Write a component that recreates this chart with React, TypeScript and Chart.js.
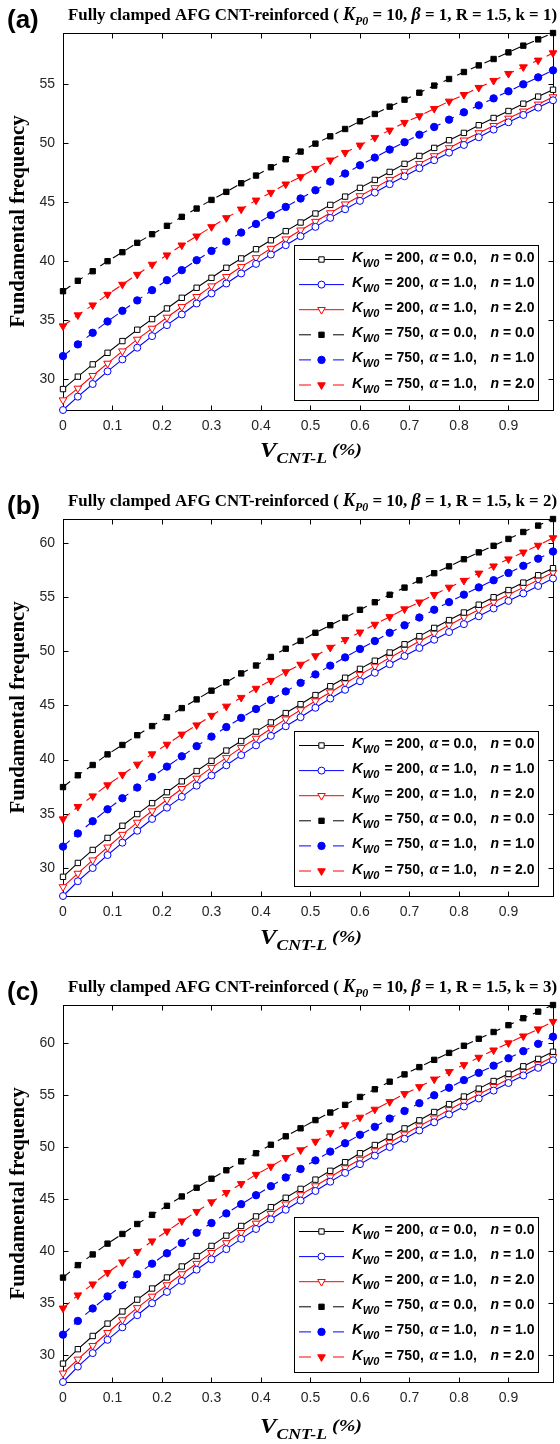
import React, { useEffect, useRef } from "react";
import { Chart, registerables } from "chart.js";

Chart.register(...registerables);

// ---------- DATA ----------
const vCnt = [0, 0.03, 0.06, 0.09, 0.12, 0.15, 0.18, 0.21, 0.24, 0.27, 0.3, 0.33, 0.36, 0.39, 0.42, 0.45, 0.48, 0.51, 0.54, 0.57, 0.6, 0.63, 0.66, 0.69, 0.72, 0.75, 0.78, 0.81, 0.84, 0.87, 0.9, 0.93, 0.96, 0.99];
const xTicks = [0, 0.1, 0.2, 0.3, 0.4, 0.5, 0.6, 0.7, 0.8, 0.9];
const xTickLabels = ["0", "0.1", "0.2", "0.3", "0.4", "0.5", "0.6", "0.7", "0.8", "0.9"];
const yTicksA = [30, 35, 40, 45, 50, 55];
const yTicksBC = [30, 35, 40, 45, 50, 55, 60];

const panelLabels = ["(a)", "(b)", "(c)"];
const kValues = ["1", "2", "3"];
const kW0Values = ["200", "200", "200", "750", "750", "750"];
const alphaValues = ["0.0", "1.0", "1.0", "0.0", "1.0", "1.0"];
const nValues = ["0.0", "1.0", "2.0", "0.0", "1.0", "2.0"];

// panel (a), k = 1
const a_k200_a0_n0 = [29.18, 30.23, 31.27, 32.25, 33.24, 34.2, 35.1, 36.0, 36.9, 37.75, 38.59, 39.44, 40.23, 41.01, 41.77, 42.54, 43.27, 44.03, 44.76, 45.46, 46.2, 46.87, 47.55, 48.23, 48.9, 49.58, 50.23, 50.85, 51.5, 52.11, 52.7, 53.32, 53.92, 54.5];
const a_k200_a1_n1 = [27.41, 28.54, 29.61, 30.68, 31.69, 32.68, 33.66, 34.59, 35.49, 36.42, 37.27, 38.11, 38.96, 39.77, 40.56, 41.35, 42.11, 42.9, 43.66, 44.39, 45.1, 45.8, 46.51, 47.18, 47.86, 48.54, 49.18, 49.83, 50.48, 51.13, 51.75, 52.37, 52.99, 53.61];
const a_k200_a1_n2 = [28.25, 29.24, 30.31, 31.35, 32.39, 33.38, 34.31, 35.24, 36.14, 36.99, 37.89, 38.68, 39.52, 40.28, 41.07, 41.86, 42.62, 43.35, 44.08, 44.82, 45.52, 46.2, 46.9, 47.58, 48.25, 48.9, 49.58, 50.23, 50.85, 51.46, 52.08, 52.68, 53.27, 53.89];
const a_k750_a0_n0 = [37.46, 38.34, 39.15, 40.0, 40.76, 41.55, 42.28, 42.99, 43.75, 44.45, 45.18, 45.86, 46.59, 47.24, 47.94, 48.62, 49.27, 49.94, 50.56, 51.18, 51.83, 52.45, 53.07, 53.66, 54.25, 54.85, 55.41, 56.0, 56.56, 57.1, 57.66, 58.23, 58.76, 59.3];
const a_k750_a1_n1 = [31.97, 32.96, 33.94, 34.9, 35.8, 36.68, 37.55, 38.39, 39.24, 40.08, 40.87, 41.66, 42.42, 43.15, 43.89, 44.59, 45.3, 46.0, 46.73, 47.41, 48.11, 48.76, 49.44, 50.06, 50.7, 51.35, 51.97, 52.59, 53.18, 53.77, 54.37, 54.96, 55.55, 56.14];
const a_k750_a1_n2 = [34.51, 35.44, 36.28, 37.18, 38.03, 38.87, 39.72, 40.51, 41.35, 42.11, 42.9, 43.66, 44.39, 45.15, 45.8, 46.51, 47.13, 47.83, 48.54, 49.18, 49.8, 50.45, 51.07, 51.72, 52.28, 52.9, 53.52, 54.08, 54.68, 55.27, 55.86, 56.42, 56.99, 57.61];

// panel (b), k = 2
const b_k200_a0_n0 = [29.18, 30.46, 31.66, 32.77, 33.89, 34.97, 35.98, 36.99, 37.99, 38.94, 39.88, 40.83, 41.71, 42.58, 43.43, 44.29, 45.11, 45.95, 46.77, 47.55, 48.37, 49.12, 49.88, 50.64, 51.39, 52.15, 52.87, 53.57, 54.29, 54.98, 55.64, 56.33, 57.01, 57.66];
const b_k200_a1_n1 = [27.41, 28.77, 29.99, 31.19, 32.33, 33.43, 34.52, 35.56, 36.56, 37.59, 38.53, 39.47, 40.41, 41.31, 42.19, 43.07, 43.91, 44.78, 45.63, 46.44, 47.23, 48.01, 48.8, 49.55, 50.3, 51.06, 51.77, 52.5, 53.22, 53.94, 54.64, 55.33, 56.02, 56.71];
const b_k200_a1_n2 = [28.25, 29.49, 30.72, 31.91, 33.08, 34.2, 35.25, 36.29, 37.31, 38.26, 39.26, 40.16, 41.1, 41.95, 42.84, 43.73, 44.58, 45.4, 46.22, 47.05, 47.84, 48.6, 49.39, 50.15, 50.91, 51.64, 52.4, 53.13, 53.83, 54.52, 55.22, 55.89, 56.56, 57.26];
const b_k750_a0_n0 = [37.46, 38.55, 39.5, 40.48, 41.35, 42.25, 43.09, 43.9, 44.75, 45.55, 46.36, 47.13, 47.95, 48.68, 49.47, 50.23, 50.95, 51.7, 52.4, 53.1, 53.82, 54.52, 55.21, 55.87, 56.54, 57.2, 57.83, 58.49, 59.12, 59.73, 60.36, 61.0, 61.59, 62.2];
const b_k750_a1_n1 = [31.97, 33.18, 34.31, 35.41, 36.43, 37.42, 38.4, 39.35, 40.3, 41.24, 42.12, 43.0, 43.85, 44.67, 45.5, 46.29, 47.08, 47.86, 48.67, 49.43, 50.21, 50.94, 51.7, 52.39, 53.11, 53.83, 54.53, 55.22, 55.89, 56.55, 57.22, 57.88, 58.54, 59.2];
const b_k750_a1_n2 = [34.51, 35.65, 36.63, 37.65, 38.61, 39.56, 40.51, 41.4, 42.33, 43.18, 44.06, 44.91, 45.72, 46.56, 47.29, 48.08, 48.78, 49.56, 50.34, 51.06, 51.75, 52.47, 53.17, 53.89, 54.52, 55.21, 55.89, 56.52, 57.19, 57.85, 58.5, 59.13, 59.76, 60.45];

// panel (c), k = 3
const c_k200_a0_n0 = [29.18, 30.57, 31.84, 33.03, 34.2, 35.34, 36.41, 37.47, 38.53, 39.53, 40.51, 41.5, 42.43, 43.35, 44.24, 45.14, 46.0, 46.89, 47.74, 48.57, 49.43, 50.22, 51.02, 51.82, 52.6, 53.4, 54.16, 54.89, 55.65, 56.38, 57.08, 57.8, 58.51, 59.2];
const c_k200_a1_n1 = [27.41, 28.89, 30.19, 31.47, 32.67, 33.84, 34.99, 36.08, 37.14, 38.22, 39.22, 40.2, 41.19, 42.14, 43.07, 43.99, 44.88, 45.8, 46.69, 47.54, 48.38, 49.2, 50.03, 50.82, 51.62, 52.41, 53.17, 53.93, 54.7, 55.46, 56.19, 56.92, 57.65, 58.38];
const c_k200_a1_n2 = [28.25, 29.59, 30.9, 32.15, 33.38, 34.55, 35.65, 36.75, 37.81, 38.81, 39.86, 40.8, 41.78, 42.68, 43.61, 44.53, 45.42, 46.28, 47.14, 48.01, 48.83, 49.64, 50.46, 51.26, 52.05, 52.81, 53.61, 54.38, 55.11, 55.84, 56.57, 57.28, 57.98, 58.71];
const c_k750_a0_n0 = [37.46, 38.66, 39.69, 40.73, 41.66, 42.62, 43.5, 44.37, 45.27, 46.11, 46.98, 47.79, 48.65, 49.43, 50.25, 51.06, 51.83, 52.62, 53.35, 54.09, 54.85, 55.59, 56.32, 57.02, 57.72, 58.42, 59.09, 59.78, 60.45, 61.1, 61.76, 62.43, 63.06, 63.7];
const c_k750_a1_n1 = [31.97, 33.29, 34.49, 35.65, 36.72, 37.78, 38.8, 39.8, 40.8, 41.78, 42.71, 43.64, 44.53, 45.39, 46.26, 47.09, 47.92, 48.74, 49.59, 50.39, 51.21, 51.97, 52.77, 53.5, 54.25, 55.01, 55.74, 56.47, 57.17, 57.86, 58.57, 59.26, 59.96, 60.65];
const c_k750_a1_n2 = [34.51, 35.77, 36.83, 37.93, 38.95, 39.96, 40.97, 41.92, 42.9, 43.81, 44.73, 45.63, 46.49, 47.38, 48.16, 49.0, 49.74, 50.56, 51.39, 52.15, 52.88, 53.65, 54.38, 55.15, 55.82, 56.55, 57.27, 57.94, 58.65, 59.35, 60.04, 60.7, 61.38, 62.1];

// ---------- STYLE ----------
const SANS = '"Liberation Sans", Arial, sans-serif';
const SERIF = '"Liberation Serif", "Times New Roman", serif';
const DASH = [9, 6];

type Style = { color: string; point: "rect" | "circle" | "triangle"; filled: boolean; dashed: boolean; radius: number; rotation: number };
const seriesStyles: Style[] = [
  { color: "#000000", point: "rect", filled: false, dashed: false, radius: 3.8, rotation: 0 },
  { color: "#0000ff", point: "circle", filled: false, dashed: false, radius: 3.5, rotation: 0 },
  { color: "#ff0000", point: "triangle", filled: false, dashed: false, radius: 4.4, rotation: 180 },
  { color: "#000000", point: "rect", filled: true, dashed: true, radius: 3.8, rotation: 0 },
  { color: "#0000ff", point: "circle", filled: true, dashed: true, radius: 3.7, rotation: 0 },
  { color: "#ff0000", point: "triangle", filled: true, dashed: true, radius: 4.4, rotation: 180 },
];

type PanelCfg = { label: string; k: string; series: number[][]; yTicks: number[]; top: number; height: number; xTitleY: number };
const panels: PanelCfg[] = [
  { label: panelLabels[0], k: kValues[0], series: [a_k200_a0_n0, a_k200_a1_n1, a_k200_a1_n2, a_k750_a0_n0, a_k750_a1_n1, a_k750_a1_n2], yTicks: yTicksA, top: 0, height: 486, xTitleY: 457 },
  { label: panelLabels[1], k: kValues[1], series: [b_k200_a0_n0, b_k200_a1_n1, b_k200_a1_n2, b_k750_a0_n0, b_k750_a1_n1, b_k750_a1_n2], yTicks: yTicksBC, top: 486, height: 486, xTitleY: 458 },
  { label: panelLabels[2], k: kValues[2], series: [c_k200_a0_n0, c_k200_a1_n1, c_k200_a1_n2, c_k750_a0_n0, c_k750_a1_n1, c_k750_a1_n2], yTicks: yTicksBC, top: 972, height: 472, xTitleY: 461 },
];

const PLOT_TOP = 33;
const PLOT_BOTTOM = 410;
const PLOT_LEFT = 63;
const PLOT_RIGHT = 553;

type Seg = { t: string; f: string; dy?: number };
function segWidth(ctx: CanvasRenderingContext2D, segs: Seg[]) {
  let w = 0;
  for (const s of segs) { ctx.font = s.f; w += ctx.measureText(s.t).width; }
  return w;
}
function drawSegs(ctx: CanvasRenderingContext2D, segs: Seg[], x: number, y: number) {
  let cx = x;
  for (const s of segs) {
    ctx.font = s.f;
    ctx.fillText(s.t, cx, y + (s.dy || 0));
    cx += ctx.measureText(s.t).width;
  }
}

function drawMarker(ctx: CanvasRenderingContext2D, st: Style, x: number, y: number) {
  const r = st.radius;
  ctx.beginPath();
  if (st.point === "rect") {
    const s = Math.SQRT1_2 * r;
    ctx.rect(x - s, y - s, 2 * s, 2 * s);
  } else if (st.point === "circle") {
    ctx.arc(x, y, r, 0, Math.PI * 2);
  } else {
    ctx.moveTo(x, y + r);
    ctx.lineTo(x - 0.866 * r, y - 0.5 * r);
    ctx.lineTo(x + 0.866 * r, y - 0.5 * r);
    ctx.closePath();
  }
  ctx.fillStyle = st.filled ? st.color : "#ffffff";
  ctx.fill();
  ctx.lineWidth = 1;
  ctx.strokeStyle = st.color;
  ctx.stroke();
}

function makeDecor(p: PanelCfg) {
  return {
    id: "decor",
    beforeDatasetsDraw(chart: any) {
      const { ctx, chartArea: a, scales } = chart;
      ctx.save();
      ctx.strokeStyle = "#000";
      ctx.lineWidth = 1;
      ctx.setLineDash([]);
      const L = Math.round(a.left) + 0.5, R = Math.round(a.right) + 0.5, T = Math.round(a.top) + 0.5, B = Math.round(a.bottom) + 0.5;
      ctx.strokeRect(L, T, R - L, B - T);
      const tl = 5;
      ctx.beginPath();
      for (const v of xTicks) {
        const x = Math.round(scales.x.getPixelForValue(v)) + 0.5;
        ctx.moveTo(x, B); ctx.lineTo(x, B - tl);
        ctx.moveTo(x, T); ctx.lineTo(x, T + tl);
      }
      for (const v of p.yTicks) {
        const y = Math.round(scales.y.getPixelForValue(v)) + 0.5;
        ctx.moveTo(L, y); ctx.lineTo(L + tl, y);
        ctx.moveTo(R, y); ctx.lineTo(R - tl, y);
      }
      ctx.stroke();

      // tick labels
      ctx.fillStyle = "#262626";
      ctx.font = `14px ${SANS}`;
      ctx.textBaseline = "middle";
      ctx.textAlign = "center";
      xTicks.forEach((v, i) => {
        ctx.fillText(xTickLabels[i], scales.x.getPixelForValue(v), a.bottom + 16);
      });
      ctx.textAlign = "right";
      p.yTicks.forEach((v) => {
        ctx.fillText(String(v), a.left - 8, scales.y.getPixelForValue(v));
      });
      ctx.restore();
    },
    afterDatasetsDraw(chart: any) {
      const { ctx, chartArea: a } = chart;
      ctx.save();
      ctx.textBaseline = "alphabetic";
      ctx.textAlign = "left";
      ctx.fillStyle = "#000";

      // legend box
      const bw = 244, bh = 155;
      const bx = Math.round(a.right - 15 - bw), by = Math.round(a.bottom - 10 - bh);
      ctx.fillStyle = "#ffffff";
      ctx.fillRect(bx, by, bw, bh);
      ctx.strokeStyle = "#000";
      ctx.lineWidth = 1;
      ctx.strokeRect(bx + 0.5, by + 0.5, bw, bh);
      for (let i = 0; i < 6; i++) {
        const st = seriesStyles[i];
        const ly = by + 14.5 + i * 25.1;
        ctx.strokeStyle = st.color;
        ctx.lineWidth = 1;
        ctx.setLineDash(st.dashed ? [12, 22] : []);
        ctx.beginPath();
        ctx.moveTo(bx + 5, ly); ctx.lineTo(bx + 50, ly);
        ctx.stroke();
        ctx.setLineDash([]);
        drawMarker(ctx, st, bx + 27.5, ly);
        ctx.fillStyle = "#000";
        const ty = ly + 2.5;
        drawSegs(ctx, [
          { t: "K", f: `italic bold 15px ${SANS}` },
          { t: "W0", f: `italic bold 11px ${SANS}`, dy: 5 },
        ], bx + 58, ty);
        ctx.font = `bold 14px ${SANS}`;
        ctx.fillText(`= ${kW0Values[i]},`, bx + 90.5, ty);
        ctx.font = `italic bold 16px ${SERIF}`;
        ctx.fillText("\u03B1", bx + 135.5, ty);
        ctx.font = `bold 14px ${SANS}`;
        ctx.fillText(`= ${alphaValues[i]},`, bx + 147.5, ty);
        ctx.font = `italic bold 14px ${SANS}`;
        ctx.fillText("n", bx + 196.5, ty);
        ctx.font = `bold 14px ${SANS}`;
        ctx.fillText(`= ${nValues[i]}`, bx + 209, ty);
      }

      // panel label
      ctx.fillStyle = "#000";
      ctx.font = `bold 26px ${SANS}`;
      ctx.fillText(p.label, 7, 28);

      // title
      const titleSegs: Seg[] = [
        { t: "Fully clamped AFG CNT-reinforced ( ", f: `bold 17px ${SERIF}` },
        { t: "K", f: `italic bold 18px ${SERIF}` },
        { t: "P0", f: `italic bold 12px ${SERIF}`, dy: 5 },
        { t: " = 10, ", f: `bold 17px ${SERIF}` },
        { t: "\u03B2", f: `italic bold 18px ${SERIF}` },
        { t: ` = 1, R = 1.5, k = ${p.k})`, f: `bold 17px ${SERIF}` },
      ];
      const tw = segWidth(ctx, titleSegs);
      const tx0 = 68, tx1 = 557;
      ctx.save();
      ctx.translate(tx0, 20);
      ctx.scale((tx1 - tx0) / tw, 1);
      drawSegs(ctx, titleSegs, 0, 0);
      ctx.restore();

      // y axis title
      const yt = "Fundamental frequency";
      ctx.font = `bold 20px ${SERIF}`;
      const yw = ctx.measureText(yt).width;
      ctx.save();
      ctx.translate(19, (a.top + a.bottom) / 2);
      ctx.rotate(-Math.PI / 2);
      ctx.scale(212 / yw, 1);
      ctx.textAlign = "center";
      ctx.textBaseline = "middle";
      ctx.fillText(yt, 0, 0);
      ctx.restore();

      // x axis title
      const xSegs: Seg[] = [
        { t: "V", f: `italic bold 21px ${SERIF}` },
        { t: "CNT-L", f: `italic bold 15px ${SERIF}`, dy: 6 },
        { t: " (%)", f: `italic bold 17px ${SERIF}`, dy: -2 },
      ];
      const xw = segWidth(ctx, xSegs);
      const xcx = (a.left + a.right) / 2 + 3;
      ctx.save();
      ctx.translate(xcx - 51, p.xTitleY);
      ctx.scale(102 / xw, 1);
      drawSegs(ctx, xSegs, 0, 0);
      ctx.restore();

      ctx.restore();
    },
  };
}

function Panel({ cfg }: { cfg: PanelCfg }) {
  const ref = useRef<HTMLCanvasElement>(null);
  useEffect(() => {
    const all = cfg.series.flat();
    const yMin = Math.min(...all);
    const yMax = Math.max(...all);
    const datasets = cfg.series.map((vals, i) => {
      const st = seriesStyles[i];
      return {
        label: `K${kW0Values[i]} a${alphaValues[i]} n${nValues[i]}`,
        data: vCnt.map((x, j) => ({ x, y: vals[j] })),
        borderColor: st.color,
        borderWidth: 1.1,
        borderDash: st.dashed ? DASH : [],
        backgroundColor: st.filled ? st.color : "#ffffff",
        pointBackgroundColor: st.filled ? st.color : "#ffffff",
        pointBorderColor: st.color,
        pointBorderWidth: 1,
        pointStyle: st.point,
        pointRotation: st.rotation,
        pointRadius: st.radius,
        pointHoverRadius: st.radius,
        tension: 0,
        fill: false,
        clip: false as any,
      };
    });
    const chart = new Chart(ref.current!, {
      type: "line",
      data: { datasets: datasets as any },
      options: {
        responsive: false,
        animation: false,
        devicePixelRatio: 1,
        events: [],
        layout: { padding: { top: PLOT_TOP, left: 0, right: 560 - PLOT_RIGHT, bottom: 0 } },
        plugins: { legend: { display: false }, tooltip: { enabled: false }, title: { display: false } },
        scales: {
          x: {
            type: "linear",
            min: 0,
            max: 0.99,
            grid: { display: false, drawTicks: false },
            border: { display: false },
            afterBuildTicks: (s: any) => { s.ticks = xTicks.map((v) => ({ value: v })); },
            afterFit: (s: any) => { s.height = cfg.height - PLOT_BOTTOM; },
            ticks: { display: false },
          },
          y: {
            type: "linear",
            min: yMin,
            max: yMax,
            grid: { display: false, drawTicks: false },
            border: { display: false },
            afterBuildTicks: (s: any) => { s.ticks = cfg.yTicks.map((v) => ({ value: v })); },
            afterFit: (s: any) => { s.width = PLOT_LEFT; },
            ticks: { display: false },
          },
        },
      },
      plugins: [makeDecor(cfg) as any],
    });
    return () => chart.destroy();
  }, [cfg]);
  return (
    <canvas
      ref={ref}
      width={560}
      height={cfg.height}
      style={{ position: "absolute", left: 0, top: cfg.top, width: 560, height: cfg.height, display: "block" }}
    />
  );
}

export default function App() {
  return (
    <div style={{ position: "absolute", left: 0, top: 0, width: 560, height: 1444, background: "#ffffff", overflow: "hidden" }}>
      {panels.map((p, i) => (
        <Panel key={i} cfg={p} />
      ))}
    </div>
  );
}
